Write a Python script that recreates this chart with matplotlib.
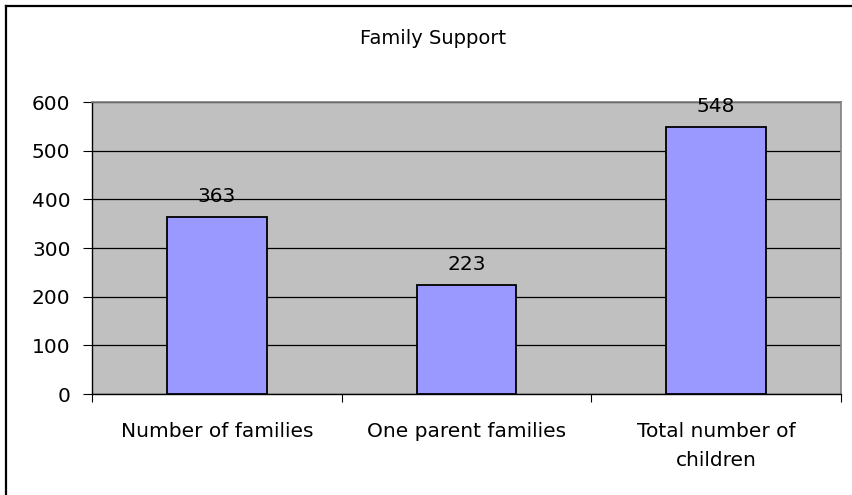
import matplotlib
matplotlib.use("Agg")
import matplotlib.pyplot as plt
from matplotlib.lines import Line2D

categories = ["Number of families", "One parent families", "Total number of\nchildren"]
values = [363, 223, 548]
yticks = [0, 100, 200, 300, 400, 500, 600]
title = "Family Support"

plt.rcParams['font.family'] = ['DejaVu Sans']
FS = 14.5

W, H = 852, 495
fig = plt.figure(figsize=(W/100, H/100), dpi=100)
fig.patch.set_facecolor("white")
# outer chart border (only top and left visible in the crop)
fig.add_artist(Line2D([6/W, 6/W], [0, 1 - 6/H], transform=fig.transFigure,
                      color="black", linewidth=1.6))
fig.add_artist(Line2D([6/W, 1], [1 - 6/H, 1 - 6/H], transform=fig.transFigure,
                      color="black", linewidth=1.6))

left, right, top, bottom = 92, 841, 102, 394
ax = fig.add_axes([left/W, 1 - bottom/H, (right-left)/W, (bottom-top)/H])
ax.set_facecolor("#C0C0C0")

x = list(range(len(categories)))
ax.bar(x, values, width=0.4, color="#9999FF", edgecolor="black", linewidth=1.3, zorder=3)
for xi, v in zip(x, values):
    ax.annotate(str(v), (xi, v), xytext=(0, 8), textcoords="offset points",
                ha="center", va="bottom", fontsize=FS, zorder=4)

ax.set_xlim(-0.5, len(categories) - 0.5)
ax.set_ylim(0, 600)
ax.set_yticks(yticks)
ax.set_yticklabels([str(t) for t in yticks], fontsize=FS)
ax.yaxis.grid(True, color="black", linewidth=0.9, zorder=1)
ax.set_axisbelow(True)

ax.set_xticks([i - 0.5 for i in range(len(categories) + 1)])
ax.set_xticklabels([])
ax.set_xticks(x, minor=True)
ax.set_xticklabels(categories, minor=True, fontsize=FS, linespacing=1.65)
ax.tick_params(axis="x", which="minor", length=0, pad=20)
ax.tick_params(axis="x", which="major", length=6, direction="out", color="black")
ax.tick_params(axis="y", length=6.5, direction="out", pad=9)

for s in ["top", "right"]:
    ax.spines[s].set_color("#808080")
    ax.spines[s].set_linewidth(1.2)
for s in ["left", "bottom"]:
    ax.spines[s].set_color("black")
    ax.spines[s].set_linewidth(1.0)

fig.text(433/W, 1 - 38/H, title, ha="center", va="center", fontsize=14)

fig.savefig("out.png", dpi=100)
